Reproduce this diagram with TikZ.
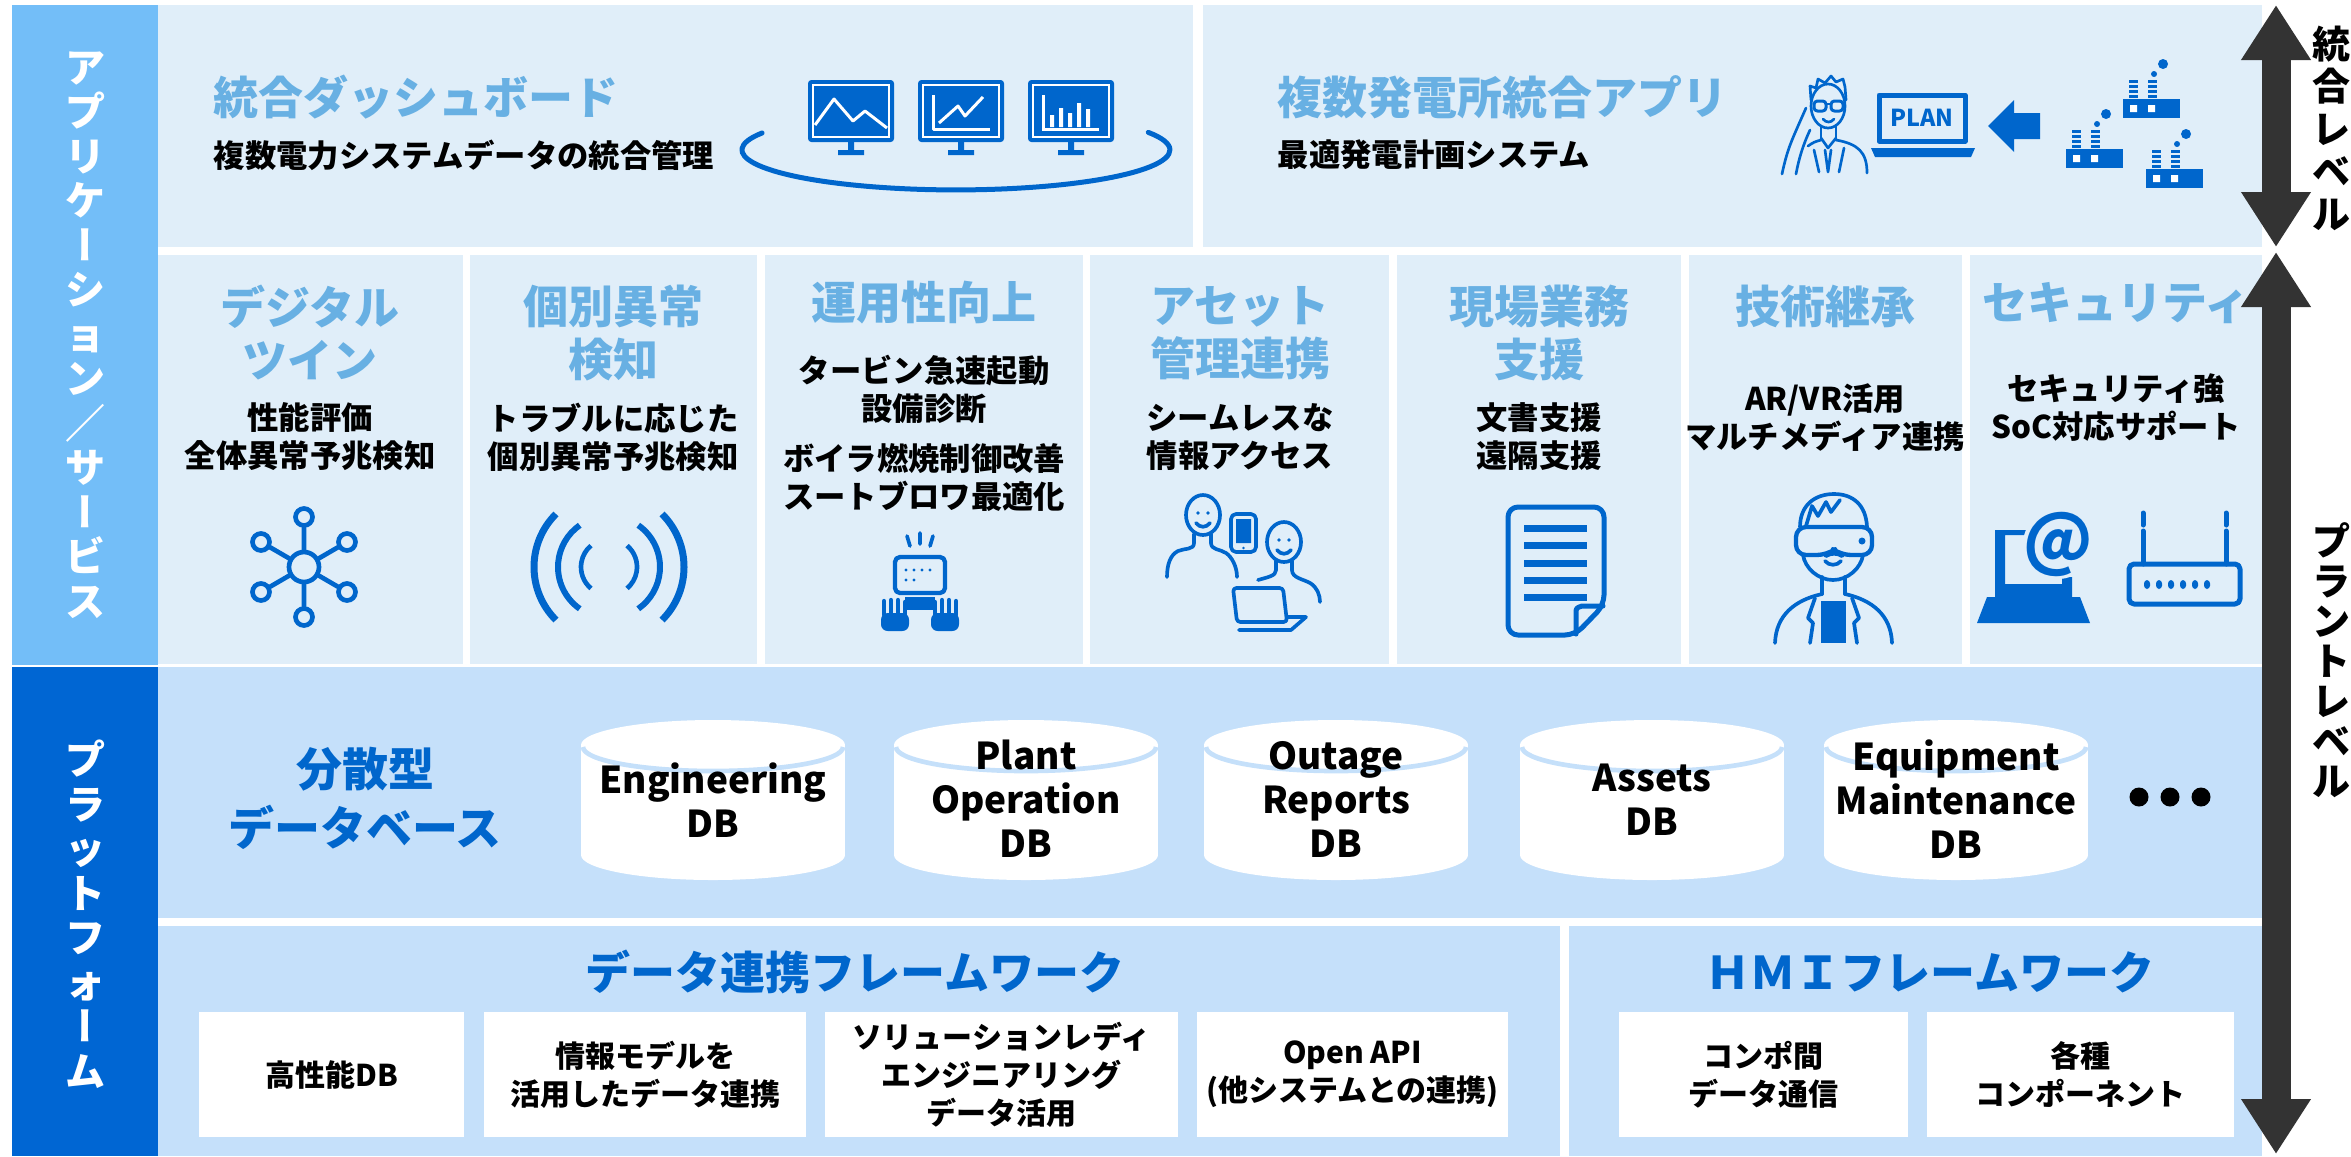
\documentclass[tikz,border=0pt]{standalone}
\usepackage{graphicx}
\usepackage{fontspec}
\setmainfont{Noto Sans CJK JP}
\newfontfamily\vertjp{Noto Sans CJK JP}[RawFeature=+vert]
\usetikzlibrary{arrows.meta}

\definecolor{panelpale}{HTML}{E0EEF9}
\definecolor{panelmid}{HTML}{C5E0FA}
\definecolor{appblue}{HTML}{73BEF8}
\definecolor{platblue}{HTML}{0066D3}
\definecolor{headblue}{HTML}{68B0E3}
\definecolor{iconblue}{HTML}{0066CC}
\definecolor{levelgray}{HTML}{333333}

% text sizes (1 grid unit = 0.3pt)
\newcommand{\headfont}{\bfseries\fontsize{13.5}{15.9}\selectfont}
\newcommand{\subfont}{\bfseries\fontsize{9.4}{11.4}\selectfont}
\newcommand{\dbfont}{\bfseries\fontsize{11.1}{13.2}\selectfont}
\newcommand{\boxfont}{\bfseries\fontsize{9}{11.4}\selectfont}
\newcommand{\sidefont}{\bfseries\fontsize{12}{13.35}\selectfont}
\newcommand{\vchoon}{{\vertjp ー}}

\begin{document}
\begin{tikzpicture}[x=0.3pt, y=-0.3pt,
  panel/.style={fill=panelpale},
  midpanel/.style={fill=panelmid},
  title/.style={text=headblue, font=\headfont, align=center, inner sep=0},
  sub/.style={font=\subfont, align=center, inner sep=0},
  bigtitle/.style={text=iconblue, font=\headfont, align=center, inner sep=0},
  dbtext/.style={font=\dbfont, align=center, inner sep=0},
  fwbox/.style={fill=white, font=\boxfont, align=center, inner sep=0, minimum height=37.5pt},
  side/.style={text=white, font=\sidefont, align=center, inner sep=0},
  leveltext/.style={font=\bfseries\fontsize{11.4}{12}\selectfont, align=center, inner sep=0},
  level/.style={draw=levelgray, line width=8.7pt, {Triangle[length=16.5pt, width=19.8pt]}-{Triangle[length=16.5pt, width=19.8pt]}},
  icon/.style={draw=iconblue, line width=1.1pt, line cap=round, line join=round},
  hub/.style={circle, draw=iconblue, line width=1.4pt, inner sep=0},
]
\useasboundingbox (0,0) rectangle (2351,1156);
\fill[white] (0,0) rectangle (2351,1156);

% side bars
\fill[appblue] (12,5) rectangle (158,665);
\fill[platblue] (12,667) rectangle (158,1156);
\node[side] (appside) at (85,335) {ア\\プ\\リ\\ケ\\\vchoon\\シ\\ョ\\ン\\／\\サ\\\vchoon\\ビ\\ス};
\node[side] (platside) at (85,914) {プ\\ラ\\ッ\\ト\\フ\\ォ\\\vchoon\\ム};

% panels
\fill[panel] (158,5) rectangle (1193,247);
\fill[panel] (1203,5) rectangle (2262,247);
\fill[panel] (158,255) rectangle (463,664);
\fill[panel] (470,255) rectangle (757,664);
\fill[panel] (765,255) rectangle (1083,664);
\fill[panel] (1090,255) rectangle (1389,664);
\fill[panel] (1397,255) rectangle (1681,664);
\fill[panel] (1689,255) rectangle (1962,664);
\fill[panel] (1970,255) rectangle (2262,664);
\fill[midpanel] (158,667) rectangle (2262,918);
\fill[midpanel] (158,926) rectangle (1560,1156);
\fill[midpanel] (1569,926) rectangle (2262,1156);

% dashboard
\node[title, anchor=west] (dashtitle) at (213,97) {統合ダッシュボード};
\node[sub, anchor=west] (dashsub) at (213,155) {複数電力システムデータの統合管理};
\draw[icon, line width=1.5pt] (762,133) arc[start angle=205, end angle=-26, x radius=214, y radius=40];
\fill[iconblue, rounded corners=1pt] (808,80) rectangle (894,142);
\fill[iconblue, rounded corners=1pt] (918,80) rectangle (1004,142);
\fill[iconblue, rounded corners=1pt] (1028,80) rectangle (1114,142);
\draw[white, line width=0.5pt] (813,85) rectangle (889,137) (923,85) rectangle (999,137) (1033,85) rectangle (1109,137);
\fill[iconblue] (848,142) rectangle (854,150) (838,150) rectangle (864,155);
\fill[iconblue] (958,142) rectangle (964,150) (948,150) rectangle (974,155);
\fill[iconblue] (1068,142) rectangle (1074,150) (1058,150) rectangle (1084,155);
\draw[white, line width=0.9pt, line join=round] (815,125) -- (834,99) -- (853,121) -- (865,111) -- (887,128);
\draw[white, line width=0.9pt, line join=round] (933,95) -- (933,129) -- (990,129);
\draw[white, line width=0.9pt, line join=round] (939,123) -- (958,106) -- (965,116) -- (983,97);
\draw[white, line width=0.9pt] (1043,95) -- (1043,129) -- (1099,129);
\fill[white] (1050,115) rectangle (1054,127) (1059,108) rectangle (1063,127) (1068,113) rectangle (1072,127) (1077,103) rectangle (1081,127) (1086,109) rectangle (1090,127);

% multi plant app
\node[title, anchor=west] (plantapp) at (1277,97) {複数発電所統合アプリ};
\node[sub, anchor=west] (plantappsub) at (1277,155) {最適発電計画システム};
\draw[icon, line width=0.8pt] (1828,106) ellipse [x radius=17, y radius=22];
\draw[icon, line width=0.8pt] (1811,100) -- (1810,86) -- (1816,88) -- (1818,79) -- (1825,83) -- (1831,76) -- (1836,82) -- (1843,79) -- (1845,87) -- (1846,100);
\draw[icon, line width=0.9pt, rounded corners=1pt] (1814,101) rectangle (1826,111) (1831,101) rectangle (1843,111);
\draw[icon, line width=0.8pt] (1826,104) -- (1831,104);
\draw[icon, line width=0.8pt] (1823,119) .. controls (1826,123) and (1831,123) .. (1834,119);
\draw[icon, line width=0.8pt] (1821,126) -- (1821,140) (1836,126) -- (1836,140);
\draw[icon, line width=0.8pt] (1836,140) .. controls (1858,144) and (1867,152) .. (1867,173);
\draw[icon, line width=0.8pt] (1821,140) .. controls (1814,142) .. (1808,146);
\draw[icon, line width=0.8pt] (1821,138) -- (1828,148) -- (1836,138);
\draw[icon, line width=0.8pt] (1825,150) -- (1828,172) -- (1831,150);
\draw[icon, line width=0.8pt] (1814,150) -- (1819,172) (1844,148) -- (1839,172);
\draw[icon, line width=0.8pt] (1782,174) .. controls (1787,150) and (1792,140) .. (1798,126) -- (1806,108);
\draw[icon, line width=0.8pt] (1796,174) .. controls (1799,158) and (1803,145) .. (1810,130);
\draw[icon, line width=1.5pt] (1879,95) rectangle (1965,141);
\fill[iconblue] (1871,148) -- (1975,148) -- (1971,157) -- (1875,157) -- cycle;
\node[text=iconblue, font=\bfseries\fontsize{7}{8}\selectfont, inner sep=0] (plan) at (1922,118) {PLAN};
\fill[iconblue] (1988,126) -- (2014,100) -- (2014,113) -- (2040,113) -- (2040,139) -- (2014,139) -- (2014,152) -- cycle;
\foreach \fx/\fy in {2123/99, 2066/149, 2146/169} {
  \fill[iconblue] (\fx,\fy) rectangle ++(57,19);
  \fill[white] (\fx+7,\fy+6) rectangle ++(7,7) (\fx+25,\fy+6) rectangle ++(7,7);
  \foreach \cx in {6,25}
    \foreach \dy in {-19,-14,-9,-4}
      \fill[iconblue] (\fx+\cx,\fy+\dy) rectangle ++(9,3);
  \fill[iconblue] (\fx+31,\fy-25) circle (3) (\fx+40,\fy-35) circle (5);
}

% plant level services
\node[title] (twintitle) at (310,333) {デジタル\\ツイン};
\node[sub] (twinsub) at (310,437) {性能評価\\全体異常予兆検知};
\node[title] (anomtitle) at (613,333) {個別異常\\検知};
\node[sub] (anomsub) at (613,437) {トラブルに応じた\\個別異常予兆検知};
\node[title] (opstitle) at (924,303) {運用性向上};
\node[sub] (opssub) at (924,389) {タービン急速起動\\設備診断};
\node[sub] (opssub2) at (924,478) {ボイラ燃焼制御改善\\スートブロワ最適化};
\node[title] (assettitle) at (1240,333) {アセット\\管理連携};
\node[sub] (assetsub) at (1240,437) {シームレスな\\情報アクセス};
\node[title] (fieldtitle) at (1539,333) {現場業務\\支援};
\node[sub] (fieldsub) at (1539,437) {文書支援\\遠隔支援};
\node[title] (skilltitle) at (1825,306) {技術継承};
\node[sub] (skillsub) at (1825,418) {AR/VR活用\\マルチメディア連携};
\node[title] (sectitle) at (2116,303) {セキュリティ};
\node[sub] (secsub) at (2116,408) {セキュリティ強\\SoC対応サポート};

% twin icon
\node[hub, minimum size=9pt] (hubc) at (304,567) {};
\node[hub, minimum size=5.1pt] (hubn) at (304,517) {};
\node[hub, minimum size=5.1pt] (hubs) at (304,617) {};
\node[hub, minimum size=5.1pt] (hubnw) at (261,542) {};
\node[hub, minimum size=5.1pt] (hubne) at (347,542) {};
\node[hub, minimum size=5.1pt] (hubsw) at (261,592) {};
\node[hub, minimum size=5.1pt] (hubse) at (347,592) {};
\draw[icon, line width=1.4pt] (hubc) -- (hubn) (hubc) -- (hubs) (hubc) -- (hubnw) (hubc) -- (hubne) (hubc) -- (hubsw) (hubc) -- (hubse);

% sensing arcs
\draw[icon, line width=2.1pt, line cap=butt] (609,567) ++(135:75) arc[start angle=135, end angle=225, radius=75];
\draw[icon, line width=1.8pt, line cap=butt] (609,567) ++(125:51) arc[start angle=125, end angle=235, radius=51];
\draw[icon, line width=1.4pt, line cap=butt] (609,567) ++(130:28) arc[start angle=130, end angle=230, radius=28];
\draw[icon, line width=2.1pt, line cap=butt] (609,567) ++(-45:75) arc[start angle=-45, end angle=45, radius=75];
\draw[icon, line width=1.8pt, line cap=butt] (609,567) ++(-55:51) arc[start angle=-55, end angle=55, radius=51];
\draw[icon, line width=1.4pt, line cap=butt] (609,567) ++(-50:28) arc[start angle=-50, end angle=50, radius=28];

% operator terminal
\draw[icon] (907,536) -- (910,546) (920,533) -- (920,544) (933,536) -- (930,546);
\draw[icon, line width=1.3pt, rounded corners=1.5pt] (895,557) rectangle (945,593);
\fill[iconblue] (906,570) circle (1.7) (914,570) circle (1.7) (922,570) circle (1.7) (930,570) circle (1.7) (906,580) circle (1.7) (914,580) circle (1.7);
\fill[iconblue] (905,597) rectangle (935,610);
\fill[iconblue, rounded corners=2pt] (881,613) rectangle (909,631) (931,613) rectangle (959,631);
\draw[iconblue, line width=1.3pt, line cap=round] (884,601) -- (884,615) (891,600) -- (891,615) (898,600) -- (898,615) (905,602) -- (905,615) (935,602) -- (935,615) (942,600) -- (942,615) (949,600) -- (949,615) (956,601) -- (956,615);

% people with devices
\draw[icon] (1203,515) ellipse [x radius=17, y radius=20];
\fill[iconblue] (1198,513) circle (1.8) (1208,513) circle (1.8);
\draw[icon] (1196,523) .. controls (1200,528) and (1206,528) .. (1210,523);
\draw[icon] (1194,534) -- (1194,543) .. controls (1194,550) and (1185,548) .. (1178,551) .. controls (1170,555) and (1167,565) .. (1167,577);
\draw[icon] (1211,534) -- (1211,543) .. controls (1211,550) and (1220,549) .. (1226,553) .. controls (1232,557) and (1237,567) .. (1237,577);
\draw[icon, rounded corners=1.5pt] (1231,514) rectangle (1256,552);
\fill[iconblue] (1236,519) rectangle (1251,543) (1243.5,548) circle (1.3);
\draw[icon] (1284,542) ellipse [x radius=17, y radius=20];
\fill[iconblue] (1279,540) circle (1.8) (1289,540) circle (1.8);
\draw[icon] (1277,550) .. controls (1281,555) and (1287,555) .. (1291,550);
\draw[icon] (1276,561) -- (1276,570) .. controls (1276,576) and (1268,577) .. (1258,580);
\draw[icon] (1292,561) -- (1292,570) .. controls (1292,578) and (1303,579) .. (1310,583) .. controls (1317,587) and (1320,595) .. (1320,602);
\draw[icon, fill=panelpale, rounded corners=1pt] (1233,588) -- (1283,588) -- (1287,622) -- (1237,622) -- cycle;
\draw[icon] (1287,617) -- (1306,617) -- (1291,630) -- (1239,630);

% document
\draw[icon, line width=1.5pt, rounded corners=3pt] (1575,635) -- (1508,635) -- (1508,507) -- (1604,507) -- (1604,605) -- cycle;
\draw[icon, line width=1.5pt] (1576,634) -- (1576,614) .. controls (1576,608) .. (1582,606) -- (1603,606);
\foreach \ly in {528,545,563,580,597}
  \fill[iconblue] (1524,\ly-3.5) rectangle (1587,\ly+3.5);

% VR headset user
\draw[icon] (1800,527) .. controls (1800,505) and (1815,494) .. (1834,494) .. controls (1853,494) and (1866,505) .. (1867,527);
\draw[icon] (1806,526) -- (1812,506) -- (1818,516) -- (1826,502) -- (1831,512) -- (1840,500);
\draw[icon, line width=1.3pt, rounded corners=3pt] (1796,527) -- (1872,527) -- (1872,555) -- (1841,555) -- (1834,550) -- (1827,555) -- (1796,555) -- cycle;
\fill[iconblue] (1862,541) circle (3.5);
\draw[icon] (1803,555) .. controls (1805,568) and (1818,580) .. (1833,580) .. controls (1848,580) and (1861,568) .. (1863,555);
\draw[icon] (1825,561) .. controls (1829,566) and (1837,566) .. (1841,561);
\draw[icon] (1822,577) -- (1822,594) (1845,577) -- (1845,594);
\draw[icon] (1822,594) .. controls (1795,600) and (1776,615) .. (1775,643);
\draw[icon] (1845,594) .. controls (1872,600) and (1891,615) .. (1892,643);
\fill[iconblue] (1821,601) rectangle (1846,643);
\draw[icon] (1815,598) -- (1808,618) -- (1813,623) -- (1810,643) (1852,598) -- (1859,618) -- (1854,623) -- (1857,643);

% security
\fill[iconblue] (1995,530) rectangle (2005,597) (1995,530) rectangle (2030,535) (1995,584) rectangle (2072,597) (2062,577) rectangle (2072,597);
\fill[iconblue] (1987,597) -- (2080,597) -- (2090,623) -- (1977,623) -- cycle;
\fill[panelpale] (2058,544) circle (35);
\node[text=iconblue, font=\bfseries\fontsize{20}{22}\selectfont, inner sep=0] (atmark) at (2058,544) {@};
\draw[icon, line width=1.5pt, rounded corners=1.5pt] (2129,564) rectangle (2240,604);
\draw[icon, line width=1.5pt] (2143,513) -- (2143,525) (2143,531) -- (2143,564) (2226,513) -- (2226,525) (2226,531) -- (2226,564);
\foreach \lx in {2147,2159,2171,2183,2195,2207}
  \fill[iconblue, rounded corners=1pt] (\lx-3,580) rectangle (\lx+3,589);

% distributed databases
\node[bigtitle, font=\bfseries\fontsize{13.8}{17.7}\selectfont] (distdb) at (365,798) {分散型\\データベース};
\foreach \cx in {713,1026,1336,1652,1956} {
  \fill[white] (\cx-132,745) rectangle (\cx+132,855);
  \fill[white] (\cx,745) ellipse [x radius=132, y radius=25];
  \fill[white] (\cx,855) ellipse [x radius=132, y radius=25];
  \draw[panelmid, line width=1.4pt] (\cx+130,747) arc[start angle=0, end angle=180, x radius=130, y radius=24];
}
\node[dbtext] (engdb) at (713,800) {Engineering\\DB};
\node[dbtext] (plantdb) at (1026,799) {Plant\\Operation\\DB};
\node[dbtext] (outagedb) at (1336,799) {Outage\\Reports\\DB};
\node[dbtext] (assetdb) at (1652,800) {Assets\\DB};
\node[dbtext] (equipdb) at (1956,799) {Equipment\\Maintenance\\DB};
\fill (2139,797) circle (9.5) (2170,797) circle (9.5) (2201,797) circle (9.5);

% frameworks
\node[bigtitle] (dataflow) at (855,972) {データ連携フレームワーク};
\node[bigtitle] (hmiflow) at (1930,972) {ＨＭＩフレームワーク};
\node[fwbox, minimum width=79.5pt] (hpdb) at (331.5,1074.5) {高性能DB};
\node[fwbox, minimum width=96.6pt] (infomodel) at (645,1074.5) {情報モデルを\\活用したデータ連携};
\node[fwbox, minimum width=105.9pt] (solready) at (1001.5,1074.5) {ソリューションレディ\\エンジニアリング\\データ活用};
\node[fwbox, minimum width=93.3pt] (openapi) at (1352.5,1074.5) {Open API\\(他システムとの連携)};
\node[fwbox, minimum width=86.7pt] (compcomm) at (1763.5,1074.5) {コンポ間\\データ通信};
\node[fwbox, minimum width=92.1pt] (components) at (2080.5,1074.5) {各種\\コンポーネント};

% level arrows
\coordinate (intTop) at (2276,5);
\coordinate (intBottom) at (2276,247);
\coordinate (plantTop) at (2276,252);
\coordinate (plantBottom) at (2276,1154);
\draw[level] (intTop) -- (intBottom);
\draw[level] (plantTop) -- (plantBottom);
\node[leveltext, font=\bfseries\fontsize{11.4}{12.75}\selectfont] (intlevel) at (2331,128) {統\\合\\レ\\ベ\\ル};
\node[leveltext] (plantlevel) at (2331,660) {プ\\ラ\\ン\\ト\\レ\\ベ\\ル};
\end{tikzpicture}
\end{document}
